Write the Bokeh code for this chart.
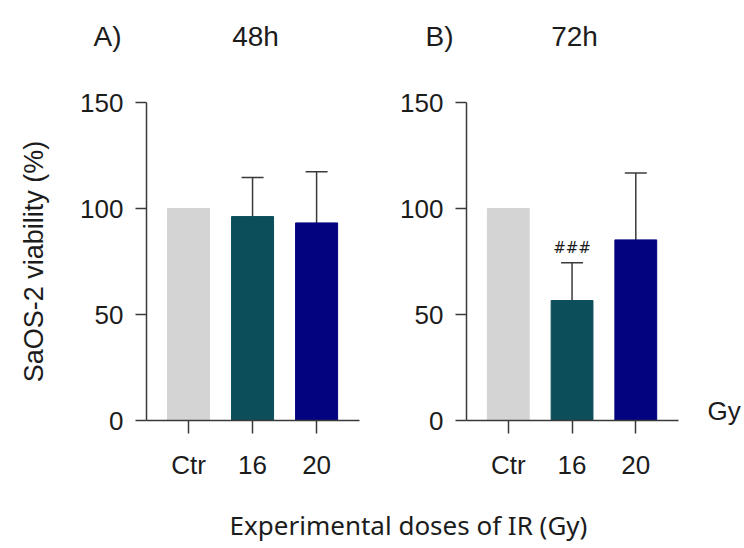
from bokeh.plotting import figure
from bokeh.models import Range1d, ColumnDataSource, Whisker, TeeHead, Label, LinearAxis, FixedTicker
from bokeh.layouts import column, row
from bokeh.core.properties import value
from bokeh.embed import file_html
from bokeh.resources import INLINE

# ---- data ----
categories = ["Ctr", "16", "20"]
colors = ["#d4d4d4", "#0c4e5a", "#03027f"]
mean_48h = [100.0, 96.2, 93.2]
sd_48h = [0.0, 18.4, 24.1]
mean_72h = [100.0, 56.6, 85.2]
sd_72h = [0.0, 17.8, 31.6]
sig_72h = ["", "###", ""]
yticks = [0, 50, 100, 150]
panel_letters = ["A)", "B)"]
panel_titles = ["48h", "72h"]
unit_label = "Gy"
x_title = "Experimental doses of IR (Gy)"
y_title = "SaOS-2 viability (%)"

FONT = "Liberation Sans"
AX = "#3a3a3a"
TXT = "#1c1c1c"


def panel(means, sds, sig, left, right, ylabel, unit=None):
    xs = list(range(1, len(categories) + 1))
    p = figure(width=372, height=430, output_backend="svg", toolbar_location=None,
               x_range=Range1d(0.344, 3.67), y_range=Range1d(0, 150),
               min_border_left=left, min_border_right=right, min_border_top=50,
               min_border_bottom=62)
    p.outline_line_color = None
    p.xgrid.visible = False
    p.ygrid.visible = False
    p.background_fill_color = "white"
    p.border_fill_color = "white"

    src = ColumnDataSource(dict(x=xs, top=means, color=colors))
    p.vbar(x="x", top="top", width=0.656, bottom=0, fill_color="color",
           line_color="color", source=src)

    ex = [x for x, s in zip(xs, sds) if s > 0]
    lo = [m for m, s in zip(means, sds) if s > 0]
    up = [m + s for m, s in zip(means, sds) if s > 0]
    wsrc = ColumnDataSource(dict(x=ex, lower=lo, upper=up))
    p.add_layout(Whisker(source=wsrc, base="x", lower="lower", upper="upper",
                         line_color=AX, line_width=1.5, lower_head=None,
                         upper_head=TeeHead(size=22, line_color=AX, line_width=1.5)))

    sx = [x for x, t in zip(xs, sig) if t]
    sy = [m + s for m, s, t in zip(means, sds, sig) if t]
    st = [t for t in sig if t]
    if st:
        p.text(x=sx, y=sy, text=st, text_align="center", text_baseline="bottom",
               y_offset=-6, text_font=value("DejaVu Sans"), text_font_size="15px",
               text_color=TXT)

    for ax in (p.xaxis[0], p.yaxis[0]):
        ax.axis_line_color = AX
        ax.axis_line_width = 1.5
        ax.major_tick_line_color = AX
        ax.major_tick_line_width = 1.5
        ax.minor_tick_line_color = None
        ax.major_tick_in = 0
        ax.major_label_text_font = FONT
        ax.major_label_text_font_size = "26px"
        ax.major_label_text_color = TXT

    p.yaxis.ticker = yticks
    p.yaxis.major_tick_out = 11
    p.yaxis.major_label_standoff = 12
    p.xaxis.ticker = xs
    p.xaxis.major_label_overrides = {x: c for x, c in zip(xs, categories)}
    p.xaxis.major_tick_out = 13
    p.xaxis.major_label_standoff = 16

    if ylabel:
        p.yaxis.axis_label = ylabel
        p.yaxis.axis_label_text_font = FONT
        p.yaxis.axis_label_text_font_size = "27px"
        p.yaxis.axis_label_text_font_style = "normal"
        p.yaxis.axis_label_text_color = TXT
        p.yaxis.axis_label_standoff = 28

    if unit:
        ua = LinearAxis(ticker=FixedTicker(ticks=[4.5]), major_label_overrides={4.5: unit},
                        axis_line_color=None, major_tick_line_color=None,
                        minor_tick_line_color=None, major_tick_out=0, major_tick_in=0,
                        major_label_standoff=29, major_label_text_font=FONT,
                        major_label_text_font_size="26px", major_label_text_color=TXT)
        p.add_layout(ua, "right")
    return p


pA = panel(mean_48h, sd_48h, ["", "", ""], 146, 13, y_title)
pB = panel(mean_72h, sd_72h, sig_72h, 94, 66, None, unit=unit_label)


def strip(h):
    s = figure(width=744, height=h, output_backend="svg", toolbar_location=None,
               x_range=Range1d(0, 744), y_range=Range1d(0, h), min_border=0,
               x_axis_type=None, y_axis_type=None)
    s.grid.visible = False
    s.outline_line_color = None
    return s


pT = strip(52)
for lx, tx, let, tit in zip([93, 425], [255, 574], panel_letters, panel_titles):
    pT.add_layout(Label(x=lx, y=16, text=let, text_font=FONT, text_font_size="28px",
                        text_color=TXT, text_align="left", text_baseline="alphabetic"))
    pT.add_layout(Label(x=tx, y=16, text=tit, text_font=FONT, text_font_size="28px",
                        text_color=TXT, text_align="center", text_baseline="alphabetic"))

pL = strip(66)
pL.add_layout(Label(x=408, y=24, text=x_title, text_font="Noto Sans",
                    text_font_size="26px", text_color=TXT, text_align="center",
                    text_baseline="middle"))

layout = column(pT, row(pA, pB, spacing=0), pL, spacing=0)
open("out.html", "w").write(file_html(layout, INLINE))
